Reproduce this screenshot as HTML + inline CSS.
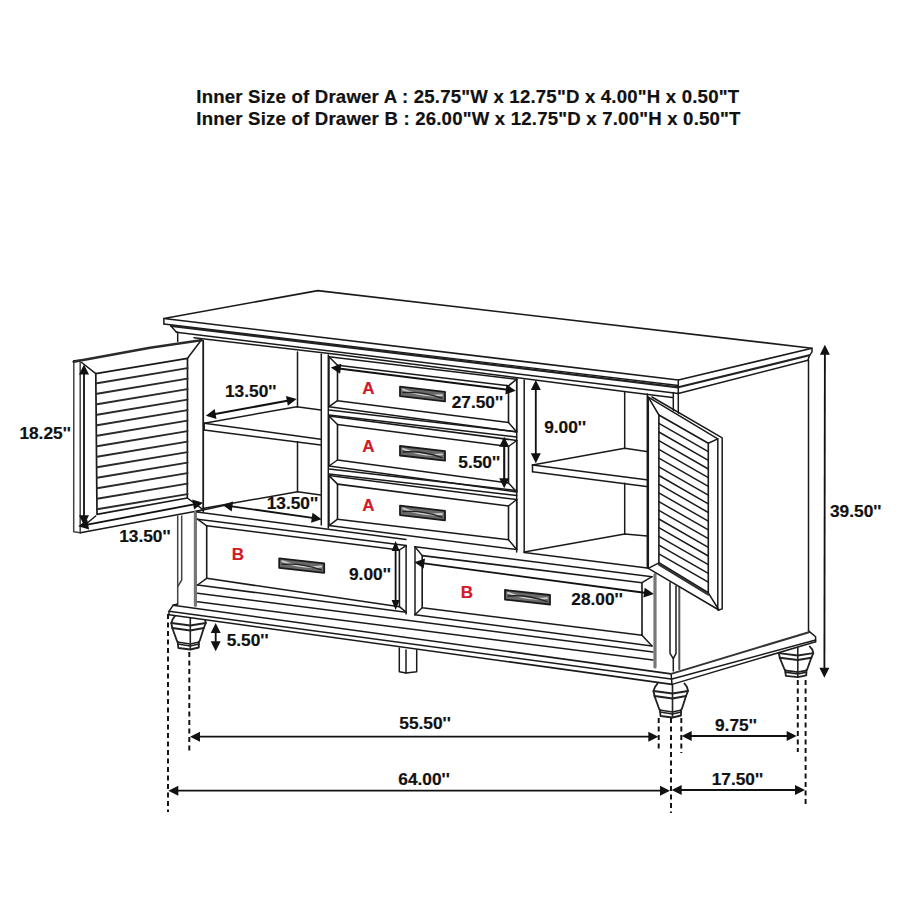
<!DOCTYPE html>
<html><head><meta charset="utf-8"><style>
html,body{margin:0;padding:0;background:#fff;width:900px;height:900px;overflow:hidden}
svg{display:block}
text{font-family:"Liberation Sans",sans-serif;font-weight:bold;stroke-width:0.2px}
</style></head><body>
<svg width="900" height="900" viewBox="0 0 900 900" stroke-linecap="round" stroke-linejoin="round">
<text x="196.3" y="102.5" font-size="18.6" fill="#111" stroke="#111" letter-spacing="0.2">Inner Size of Drawer A : 25.75"W x 12.75"D x 4.00"H x 0.50"T</text>
<text x="196.3" y="124.7" font-size="18.6" fill="#111" stroke="#111" letter-spacing="0.2">Inner Size of Drawer B : 26.00"W x 12.75"D x 7.00"H x 0.50"T</text>
<path d="M163.9 318.5 L317.8 290.6 L812.0 348.2 L678.3 380.0 L163.9 318.5" stroke="#1a1a1a" stroke-width="1.6099999999999999" fill="none" />
<path d="M163.9 324.0 L678.3 385.5" stroke="#1a1a1a" stroke-width="1.38" fill="none" />
<path d="M171.0 325.8 L678.3 387.4" stroke="#222" stroke-width="2.2" fill="none" />
<path d="M176.5 332.2 L678.3 393.5" stroke="#1a1a1a" stroke-width="1.4949999999999999" fill="none" />
<path d="M194.0 337.7 L340.0 354.8 L630.0 392.2 L672.5 397.5" stroke="#1a1a1a" stroke-width="1.4949999999999999" fill="none" />
<path d="M163.9 318.5 L163.9 324.0" stroke="#1a1a1a" stroke-width="1.4949999999999999" fill="none" />
<path d="M171.0 326.1 L174.0 329.5 L176.5 332.2 L177.7 332.3 L177.7 341.4" stroke="#1a1a1a" stroke-width="1.4949999999999999" fill="none" />
<path d="M678.3 387.2 L809.3 355.3" stroke="#222" stroke-width="2.2" fill="none" />
<path d="M678.3 393.5 L808.0 360.2" stroke="#1a1a1a" stroke-width="1.4949999999999999" fill="none" />
<path d="M812.0 348.2 L812.0 351.8 L809.3 355.8 L808.0 360.2" stroke="#1a1a1a" stroke-width="1.4949999999999999" fill="none" />
<path d="M678.3 380.0 L678.3 393.5" stroke="#1a1a1a" stroke-width="1.4949999999999999" fill="none" />
<path d="M808.5 360.2 L808.5 632.0" stroke="#1a1a1a" stroke-width="1.4949999999999999" fill="none" />
<path d="M673.3 392.5 L673.3 412.0" stroke="#1a1a1a" stroke-width="1.4949999999999999" fill="none" />
<path d="M678.3 392.5 L678.3 414.0" stroke="#1a1a1a" stroke-width="1.4949999999999999" fill="none" />
<path d="M73.8 360.8 L73.7 531.7 L80.3 532.7" stroke="#444" stroke-width="1.4949999999999999" fill="none" />
<path d="M80.2 362.0 L80.2 532.7" stroke="#444" stroke-width="1.4949999999999999" fill="none" />
<path d="M73.8 360.8 L80.2 360.2" stroke="#1a1a1a" stroke-width="1.4949999999999999" fill="none" />
<path d="M73.6 361.8 L150.0 347.8 L201.0 340.3" stroke="#2a2a2a" stroke-width="2.4" fill="none" />
<path d="M200.0 340.3 L203.3 340.5 L203.3 510.0" stroke="#1a1a1a" stroke-width="1.4949999999999999" fill="none" />
<path d="M80.3 532.7 L202.7 510.0" stroke="#1a1a1a" stroke-width="1.6099999999999999" fill="none" />
<path d="M95.8 373.7 L187.5 358.3 L187.3 498.0 L97.0 514.3 L95.8 373.7" stroke="#1a1a1a" stroke-width="1.7249999999999999" fill="none" />
<path d="M81.7 362.5 L95.8 373.7" stroke="#1a1a1a" stroke-width="1.4949999999999999" fill="none" />
<path d="M200.0 341.7 L187.5 358.3" stroke="#1a1a1a" stroke-width="1.4949999999999999" fill="none" />
<path d="M202.7 509.3 L187.3 498.0" stroke="#1a1a1a" stroke-width="1.4949999999999999" fill="none" />
<path d="M87.0 523.3 L95.7 516.0" stroke="#1a1a1a" stroke-width="1.4949999999999999" fill="none" />
<path d="M97.0 383.3 L187.5 368.1" stroke="#2a2a2a" stroke-width="1.9549999999999998" fill="none" />
<path d="M97.0 393.8 L187.5 378.6" stroke="#2a2a2a" stroke-width="1.9549999999999998" fill="none" />
<path d="M97.0 404.3 L187.5 389.1" stroke="#2a2a2a" stroke-width="1.9549999999999998" fill="none" />
<path d="M97.0 414.8 L187.5 399.6" stroke="#2a2a2a" stroke-width="1.9549999999999998" fill="none" />
<path d="M97.0 425.3 L187.5 410.1" stroke="#2a2a2a" stroke-width="1.9549999999999998" fill="none" />
<path d="M97.0 435.8 L187.5 420.6" stroke="#2a2a2a" stroke-width="1.9549999999999998" fill="none" />
<path d="M97.0 446.3 L187.5 431.1" stroke="#2a2a2a" stroke-width="1.9549999999999998" fill="none" />
<path d="M97.0 456.8 L187.5 441.6" stroke="#2a2a2a" stroke-width="1.9549999999999998" fill="none" />
<path d="M97.0 467.3 L187.5 452.1" stroke="#2a2a2a" stroke-width="1.9549999999999998" fill="none" />
<path d="M97.0 477.8 L187.5 462.6" stroke="#2a2a2a" stroke-width="1.9549999999999998" fill="none" />
<path d="M97.0 488.3 L187.5 473.1" stroke="#2a2a2a" stroke-width="1.9549999999999998" fill="none" />
<path d="M97.0 498.8 L187.5 483.6" stroke="#2a2a2a" stroke-width="1.9549999999999998" fill="none" />
<path d="M97.0 509.3 L187.5 494.1" stroke="#2a2a2a" stroke-width="1.9549999999999998" fill="none" />
<path d="M84.0 368.5 L84.0 521.3" stroke="#111" stroke-width="1.8399999999999999" fill="none" stroke-linecap="butt"/>
<path d="M84.0 525.3 L79.0 515.3 L89.0 515.3Z" fill="#111" stroke="none" stroke-width="0"/>
<path d="M84.0 364.5 L89.0 374.5 L79.0 374.5Z" fill="#111" stroke="none" stroke-width="0"/>
<path d="M82.2 525.6 L199.1 503.4" stroke="#111" stroke-width="1.8399999999999999" fill="none" stroke-linecap="butt"/>
<path d="M203.0 502.7 L194.1 509.5 L192.2 499.6Z" fill="#111" stroke="none" stroke-width="0"/>
<path d="M78.3 526.3 L87.2 519.5 L89.1 529.4Z" fill="#111" stroke="none" stroke-width="0"/>
<text x="19.4" y="438.7" font-size="17.3" fill="#111" stroke="#111" text-anchor="start" >18.25''</text>
<text x="119.2" y="541.7" font-size="17.3" fill="#111" stroke="#111" text-anchor="start" >13.50''</text>
<path d="M203.3 341.0 L203.3 512.0" stroke="#1a1a1a" stroke-width="1.4949999999999999" fill="none" />
<path d="M297.5 352.0 L297.5 407.0" stroke="#1a1a1a" stroke-width="1.4949999999999999" fill="none" />
<path d="M297.5 441.7 L297.5 491.7" stroke="#1a1a1a" stroke-width="1.4949999999999999" fill="none" />
<path d="M204.2 423.3 L296.7 406.7 L320.8 410.0" stroke="#1a1a1a" stroke-width="1.4949999999999999" fill="none" />
<path d="M204.2 423.3 L320.8 439.2" stroke="#1a1a1a" stroke-width="1.4949999999999999" fill="none" />
<path d="M204.2 430.0 L320.8 445.0" stroke="#1a1a1a" stroke-width="1.4949999999999999" fill="none" />
<path d="M204.2 423.3 L204.2 430.0" stroke="#1a1a1a" stroke-width="1.4949999999999999" fill="none" />
<path d="M204.2 508.3 L297.5 491.7 L320.8 495.0" stroke="#1a1a1a" stroke-width="1.4949999999999999" fill="none" />
<path d="M209.7 415.1 L292.8 399.7" stroke="#111" stroke-width="2.07" fill="none" stroke-linecap="butt"/>
<path d="M296.7 399.0 L287.8 405.7 L286.0 395.9Z" fill="#111" stroke="none" stroke-width="0"/>
<path d="M205.8 415.8 L214.7 409.1 L216.5 418.9Z" fill="#111" stroke="none" stroke-width="0"/>
<text x="225.0" y="396.7" font-size="17.3" fill="#111" stroke="#111" text-anchor="start" >13.50''</text>
<path d="M226.5 505.6 L317.7 518.6" stroke="#111" stroke-width="1.8399999999999999" fill="none" stroke-linecap="butt"/>
<path d="M321.7 519.2 L311.1 522.7 L312.5 512.8Z" fill="#111" stroke="none" stroke-width="0"/>
<path d="M222.5 505.0 L233.1 501.5 L231.7 511.4Z" fill="#111" stroke="none" stroke-width="0"/>
<text x="266.7" y="509.2" font-size="17.3" fill="#111" stroke="#111" text-anchor="start" >13.50''</text>
<path d="M321.3 354.3 L321.3 525.0" stroke="#1a1a1a" stroke-width="1.4949999999999999" fill="none" />
<path d="M328.3 355.0 L328.3 528.0" stroke="#1a1a1a" stroke-width="1.4949999999999999" fill="none" />
<path d="M329.0 356.7 L516.7 379.2" stroke="#1a1a1a" stroke-width="1.4949999999999999" fill="none" />
<path d="M329.0 406.7 L516.7 432.0" stroke="#1a1a1a" stroke-width="1.4949999999999999" fill="none" />
<path d="M337.5 365.2 L508.5 385.8 L508.5 422.5 L337.5 400.7 L337.5 365.2" stroke="#1a1a1a" stroke-width="1.6099999999999999" fill="none" />
<path d="M329.0 356.7 L337.5 365.2" stroke="#1a1a1a" stroke-width="1.4949999999999999" fill="none" />
<path d="M516.7 379.2 L508.5 385.8" stroke="#1a1a1a" stroke-width="1.4949999999999999" fill="none" />
<path d="M329.0 406.7 L337.5 400.7" stroke="#1a1a1a" stroke-width="1.4949999999999999" fill="none" />
<path d="M516.7 432.0 L508.5 422.5" stroke="#1a1a1a" stroke-width="1.4949999999999999" fill="none" />
<path d="M329.0 356.7 L329.0 406.7" stroke="#1a1a1a" stroke-width="1.4949999999999999" fill="none" />
<path d="M516.7 379.2 L516.7 432.0" stroke="#1a1a1a" stroke-width="1.4949999999999999" fill="none" />
<text x="368.5" y="393.7" font-size="17" fill="#d21a26" stroke="#d21a26" text-anchor="middle" >A</text>
<path d="M400.0 386.7 L445.0 391.9 L445.0 401.4 L400.0 396.2Z" fill="#6a6a6a" stroke="#1a1a1a" stroke-width="1.8"/>
<path d="M403.0 389.5 Q422.5 397.3 442.0 395.1" stroke="#ccc" stroke-width="1.8" fill="none"/>
<path d="M403.0 392.7 Q422.5 391.3 442.0 398.4" stroke="#222" stroke-width="1.3" fill="none"/>
<path d="M329.0 416.0 L516.7 440.5" stroke="#1a1a1a" stroke-width="1.4949999999999999" fill="none" />
<path d="M329.0 466.0 L516.7 492.0" stroke="#1a1a1a" stroke-width="1.4949999999999999" fill="none" />
<path d="M337.5 424.5 L508.5 446.5 L508.5 483.0 L337.5 460.0 L337.5 424.5" stroke="#1a1a1a" stroke-width="1.6099999999999999" fill="none" />
<path d="M329.0 416.0 L337.5 424.5" stroke="#1a1a1a" stroke-width="1.4949999999999999" fill="none" />
<path d="M516.7 440.5 L508.5 446.5" stroke="#1a1a1a" stroke-width="1.4949999999999999" fill="none" />
<path d="M329.0 466.0 L337.5 460.0" stroke="#1a1a1a" stroke-width="1.4949999999999999" fill="none" />
<path d="M516.7 492.0 L508.5 483.0" stroke="#1a1a1a" stroke-width="1.4949999999999999" fill="none" />
<path d="M329.0 416.0 L329.0 466.0" stroke="#1a1a1a" stroke-width="1.4949999999999999" fill="none" />
<path d="M516.7 440.5 L516.7 492.0" stroke="#1a1a1a" stroke-width="1.4949999999999999" fill="none" />
<text x="368.5" y="451.7" font-size="17" fill="#d21a26" stroke="#d21a26" text-anchor="middle" >A</text>
<path d="M400.0 446.0 L445.0 451.2 L445.0 460.7 L400.0 455.5Z" fill="#6a6a6a" stroke="#1a1a1a" stroke-width="1.8"/>
<path d="M403.0 448.8 Q422.5 456.6 442.0 454.4" stroke="#ccc" stroke-width="1.8" fill="none"/>
<path d="M403.0 452.0 Q422.5 450.6 442.0 457.7" stroke="#222" stroke-width="1.3" fill="none"/>
<path d="M329.0 475.6 L516.7 499.5" stroke="#1a1a1a" stroke-width="1.4949999999999999" fill="none" />
<path d="M329.0 525.6 L516.7 549.5" stroke="#1a1a1a" stroke-width="1.4949999999999999" fill="none" />
<path d="M337.5 484.1 L508.5 506.0 L508.5 539.7 L337.5 519.2 L337.5 484.1" stroke="#1a1a1a" stroke-width="1.6099999999999999" fill="none" />
<path d="M329.0 475.6 L337.5 484.1" stroke="#1a1a1a" stroke-width="1.4949999999999999" fill="none" />
<path d="M516.7 499.5 L508.5 506.0" stroke="#1a1a1a" stroke-width="1.4949999999999999" fill="none" />
<path d="M329.0 525.6 L337.5 519.2" stroke="#1a1a1a" stroke-width="1.4949999999999999" fill="none" />
<path d="M516.7 549.5 L508.5 539.7" stroke="#1a1a1a" stroke-width="1.4949999999999999" fill="none" />
<path d="M329.0 475.6 L329.0 525.6" stroke="#1a1a1a" stroke-width="1.4949999999999999" fill="none" />
<path d="M516.7 499.5 L516.7 549.5" stroke="#1a1a1a" stroke-width="1.4949999999999999" fill="none" />
<text x="368.5" y="510.6" font-size="17" fill="#d21a26" stroke="#d21a26" text-anchor="middle" >A</text>
<path d="M400.0 505.6 L445.0 510.8 L445.0 520.3 L400.0 515.1Z" fill="#6a6a6a" stroke="#1a1a1a" stroke-width="1.8"/>
<path d="M403.0 508.4 Q422.5 516.2 442.0 514.0" stroke="#ccc" stroke-width="1.8" fill="none"/>
<path d="M403.0 511.6 Q422.5 510.2 442.0 517.3" stroke="#222" stroke-width="1.3" fill="none"/>
<path d="M329.0 410.0 L516.7 431.7" stroke="#1a1a1a" stroke-width="1.4949999999999999" fill="none" />
<path d="M329.0 415.0 L516.7 437.0" stroke="#1a1a1a" stroke-width="1.4949999999999999" fill="none" />
<path d="M329.0 469.0 L516.7 490.5" stroke="#1a1a1a" stroke-width="1.4949999999999999" fill="none" />
<path d="M329.0 474.0 L516.7 495.5" stroke="#1a1a1a" stroke-width="1.4949999999999999" fill="none" />
<path d="M334.8 368.0 L511.8 390.3" stroke="#111" stroke-width="2.07" fill="none" stroke-linecap="butt"/>
<path d="M515.8 390.8 L505.3 394.5 L506.5 384.6Z" fill="#111" stroke="none" stroke-width="0"/>
<path d="M330.8 367.5 L341.3 363.8 L340.1 373.7Z" fill="#111" stroke="none" stroke-width="0"/>
<text x="451.7" y="407.5" font-size="17.3" fill="#111" stroke="#111" text-anchor="start" >27.50''</text>
<path d="M504.2 440.7 L504.2 484.3" stroke="#111" stroke-width="2.07" fill="none" stroke-linecap="butt"/>
<path d="M504.2 488.3 L499.2 478.3 L509.2 478.3Z" fill="#111" stroke="none" stroke-width="0"/>
<path d="M504.2 436.7 L509.2 446.7 L499.2 446.7Z" fill="#111" stroke="none" stroke-width="0"/>
<text x="458.3" y="468.3" font-size="17.3" fill="#111" stroke="#111" text-anchor="start" >5.50''</text>
<path d="M516.7 378.0 L516.7 552.0" stroke="#1a1a1a" stroke-width="1.4949999999999999" fill="none" />
<path d="M524.2 380.0 L524.2 552.0" stroke="#1a1a1a" stroke-width="1.4949999999999999" fill="none" />
<path d="M624.7 392.5 L624.7 448.3" stroke="#1a1a1a" stroke-width="1.4949999999999999" fill="none" />
<path d="M624.7 483.3 L624.7 534.0" stroke="#1a1a1a" stroke-width="1.4949999999999999" fill="none" />
<path d="M532.5 465.0 L624.7 448.3 L648.3 451.7" stroke="#1a1a1a" stroke-width="1.4949999999999999" fill="none" />
<path d="M532.5 465.0 L648.3 480.0" stroke="#1a1a1a" stroke-width="1.4949999999999999" fill="none" />
<path d="M532.5 471.7 L648.3 486.7" stroke="#1a1a1a" stroke-width="1.4949999999999999" fill="none" />
<path d="M532.5 465.0 L532.5 471.7" stroke="#1a1a1a" stroke-width="1.4949999999999999" fill="none" />
<path d="M524.2 552.0 L624.7 534.0 L647.3 536.0" stroke="#1a1a1a" stroke-width="1.4949999999999999" fill="none" />
<path d="M524.2 552.5 L647.3 568.0" stroke="#1a1a1a" stroke-width="1.4949999999999999" fill="none" />
<path d="M535.8 384.0 L535.8 459.3" stroke="#111" stroke-width="1.8399999999999999" fill="none" stroke-linecap="butt"/>
<path d="M535.8 463.3 L530.8 453.3 L540.8 453.3Z" fill="#111" stroke="none" stroke-width="0"/>
<path d="M535.8 380.0 L540.8 390.0 L530.8 390.0Z" fill="#111" stroke="none" stroke-width="0"/>
<text x="544.2" y="432.5" font-size="17.3" fill="#111" stroke="#111" text-anchor="start" >9.00''</text>
<path d="M647.3 394.0 L647.3 568.0" stroke="#1a1a1a" stroke-width="1.4949999999999999" fill="none" />
<path d="M177.7 516.0 L177.7 604.0" stroke="#444" stroke-width="1.4949999999999999" fill="none" />
<path d="M181.7 516.0 L181.7 580.0 L177.7 586.7" stroke="#444" stroke-width="1.4949999999999999" fill="none" />
<path d="M195.4 512.0 L195.4 605.3" stroke="#777" stroke-width="3.2" fill="none" />
<path d="M197.0 511.3 L225.0 505.3" stroke="#1a1a1a" stroke-width="1.4949999999999999" fill="none" />
<path d="M197.0 512.0 L406.0 539.5" stroke="#1a1a1a" stroke-width="1.4949999999999999" fill="none" />
<path d="M197.5 519.2 L406.1 545.6" stroke="#1a1a1a" stroke-width="1.4949999999999999" fill="none" />
<path d="M197.5 585.0 L406.1 612.2" stroke="#1a1a1a" stroke-width="1.4949999999999999" fill="none" />
<path d="M206.7 525.8 L399.4 550.0 L399.4 606.7 L206.7 578.3 L206.7 525.8" stroke="#1a1a1a" stroke-width="1.6099999999999999" fill="none" />
<path d="M197.5 519.2 L206.7 525.8" stroke="#1a1a1a" stroke-width="1.4949999999999999" fill="none" />
<path d="M406.1 545.6 L399.4 550.0" stroke="#1a1a1a" stroke-width="1.4949999999999999" fill="none" />
<path d="M406.1 612.2 L399.4 606.7" stroke="#1a1a1a" stroke-width="1.4949999999999999" fill="none" />
<path d="M197.5 585.0 L206.7 578.3" stroke="#1a1a1a" stroke-width="1.4949999999999999" fill="none" />
<text x="238.0" y="559.8" font-size="17" fill="#d21a26" stroke="#d21a26" text-anchor="middle" >B</text>
<path d="M279.2 558.3 L324.2 563.3 L324.2 572.8 L279.2 567.8Z" fill="#6a6a6a" stroke="#1a1a1a" stroke-width="1.8"/>
<path d="M282.2 561.1 Q301.7 568.8 321.2 566.5" stroke="#ccc" stroke-width="1.8" fill="none"/>
<path d="M282.2 564.3 Q301.7 562.8 321.2 569.8" stroke="#222" stroke-width="1.3" fill="none"/>
<path d="M197.5 593.3 L653.0 652.0" stroke="#1a1a1a" stroke-width="1.4949999999999999" fill="none" />
<path d="M197.5 601.7 L653.0 660.0" stroke="#1a1a1a" stroke-width="1.4949999999999999" fill="none" />
<path d="M395.6 545.1 L395.6 606.0" stroke="#111" stroke-width="1.8399999999999999" fill="none" stroke-linecap="butt"/>
<path d="M395.6 610.0 L391.6 600.0 L399.6 600.0Z" fill="#111" stroke="none" stroke-width="0"/>
<path d="M395.6 541.1 L399.6 551.1 L391.6 551.1Z" fill="#111" stroke="none" stroke-width="0"/>
<text x="349.0" y="580.3" font-size="17.3" fill="#111" stroke="#111" text-anchor="start" >9.00''</text>
<path d="M406.1 545.6 L406.1 614.0" stroke="#1a1a1a" stroke-width="1.4949999999999999" fill="none" />
<path d="M415.0 546.7 L415.0 614.7" stroke="#1a1a1a" stroke-width="1.4949999999999999" fill="none" />
<path d="M415.0 546.7 L652.0 576.7" stroke="#1a1a1a" stroke-width="1.4949999999999999" fill="none" />
<path d="M415.0 614.7 L652.0 646.0" stroke="#1a1a1a" stroke-width="1.4949999999999999" fill="none" />
<path d="M422.2 555.6 L642.0 582.7 L642.0 635.3 L422.2 607.8 L422.2 555.6" stroke="#1a1a1a" stroke-width="1.6099999999999999" fill="none" />
<path d="M415.0 546.7 L422.2 555.6" stroke="#1a1a1a" stroke-width="1.4949999999999999" fill="none" />
<path d="M652.0 576.7 L642.0 582.7" stroke="#1a1a1a" stroke-width="1.4949999999999999" fill="none" />
<path d="M652.0 646.0 L642.0 635.3" stroke="#1a1a1a" stroke-width="1.4949999999999999" fill="none" />
<path d="M415.0 614.7 L422.2 607.8" stroke="#1a1a1a" stroke-width="1.4949999999999999" fill="none" />
<text x="467.0" y="597.8" font-size="17" fill="#d21a26" stroke="#d21a26" text-anchor="middle" >B</text>
<path d="M505.0 590.0 L550.0 595.0 L550.0 604.5 L505.0 599.5Z" fill="#6a6a6a" stroke="#1a1a1a" stroke-width="1.8"/>
<path d="M508.0 592.8 Q527.5 600.5 547.0 598.2" stroke="#ccc" stroke-width="1.8" fill="none"/>
<path d="M508.0 596.0 Q527.5 594.5 547.0 601.5" stroke="#222" stroke-width="1.3" fill="none"/>
<path d="M418.4 562.7 L650.0 593.5" stroke="#111" stroke-width="1.8399999999999999" fill="none" stroke-linecap="butt"/>
<path d="M654.0 594.0 L643.4 597.6 L644.7 587.7Z" fill="#111" stroke="none" stroke-width="0"/>
<path d="M414.4 562.2 L425.0 558.6 L423.7 568.5Z" fill="#111" stroke="none" stroke-width="0"/>
<text x="571.3" y="605.3" font-size="17.3" fill="#111" stroke="#111" text-anchor="start" >28.00''</text>
<path d="M655.0 574.7 L655.0 667.0" stroke="#777" stroke-width="3.2" fill="none" />
<path d="M670.0 582.7 L670.0 653.3 L673.3 658.7 L676.0 653.3 L676.0 586.0" stroke="#1a1a1a" stroke-width="1.4949999999999999" fill="none" />
<path d="M673.3 658.7 L673.3 671.0" stroke="#1a1a1a" stroke-width="1.4949999999999999" fill="none" />
<path d="M679.3 586.7 L679.3 669.3" stroke="#555" stroke-width="2" fill="none" />
<path d="M648.3 397.2 L722.2 437.8 L722.2 608.9 L718.9 610.0 L648.3 568.3Z" fill="#fff" stroke="none" stroke-width="0"/>
<path d="M648.3 397.2 L648.3 568.3 L718.9 610.0 L722.2 608.9 L722.2 437.8 L652.0 397.0" stroke="#1a1a1a" stroke-width="1.4949999999999999" fill="none" />
<path d="M648.3 397.2 L717.8 438.9 L717.8 610.0" stroke="#1a1a1a" stroke-width="1.4949999999999999" fill="none" />
<path d="M658.9 415.0 L708.3 443.3 L708.3 592.8 L658.9 562.8 L658.9 415.0" stroke="#1a1a1a" stroke-width="1.6099999999999999" fill="none" />
<path d="M648.3 397.2 L658.9 415.0" stroke="#1a1a1a" stroke-width="1.4949999999999999" fill="none" />
<path d="M717.8 438.9 L708.3 443.3" stroke="#1a1a1a" stroke-width="1.4949999999999999" fill="none" />
<path d="M718.9 610.0 L708.3 592.8" stroke="#1a1a1a" stroke-width="1.4949999999999999" fill="none" />
<path d="M648.3 568.3 L658.9 562.8" stroke="#1a1a1a" stroke-width="1.4949999999999999" fill="none" />
<path d="M658.9 423.3 L708.3 451.6" stroke="#1a1a1a" stroke-width="1.4949999999999999" fill="none" />
<path d="M658.9 432.0 L708.3 460.3" stroke="#1a1a1a" stroke-width="1.4949999999999999" fill="none" />
<path d="M658.9 440.7 L708.3 469.0" stroke="#1a1a1a" stroke-width="1.4949999999999999" fill="none" />
<path d="M658.9 449.4 L708.3 477.7" stroke="#1a1a1a" stroke-width="1.4949999999999999" fill="none" />
<path d="M658.9 458.1 L708.3 486.4" stroke="#1a1a1a" stroke-width="1.4949999999999999" fill="none" />
<path d="M658.9 466.8 L708.3 495.1" stroke="#1a1a1a" stroke-width="1.4949999999999999" fill="none" />
<path d="M658.9 475.5 L708.3 503.8" stroke="#1a1a1a" stroke-width="1.4949999999999999" fill="none" />
<path d="M658.9 484.2 L708.3 512.5" stroke="#1a1a1a" stroke-width="1.4949999999999999" fill="none" />
<path d="M658.9 492.9 L708.3 521.2" stroke="#1a1a1a" stroke-width="1.4949999999999999" fill="none" />
<path d="M658.9 501.6 L708.3 529.9" stroke="#1a1a1a" stroke-width="1.4949999999999999" fill="none" />
<path d="M658.9 510.3 L708.3 538.6" stroke="#1a1a1a" stroke-width="1.4949999999999999" fill="none" />
<path d="M658.9 519.0 L708.3 547.3" stroke="#1a1a1a" stroke-width="1.4949999999999999" fill="none" />
<path d="M658.9 527.7 L708.3 556.0" stroke="#1a1a1a" stroke-width="1.4949999999999999" fill="none" />
<path d="M658.9 536.4 L708.3 564.7" stroke="#1a1a1a" stroke-width="1.4949999999999999" fill="none" />
<path d="M658.9 545.1 L708.3 573.4" stroke="#1a1a1a" stroke-width="1.4949999999999999" fill="none" />
<path d="M658.9 553.8 L708.3 582.1" stroke="#1a1a1a" stroke-width="1.4949999999999999" fill="none" />
<path d="M659.0 564.5 L708.3 594.5" stroke="#333" stroke-width="2.2" fill="none" />
<path d="M175.3 615.5 L172.8 619.0 L171.3 623.0 L172.3 628.0 L176.8 640.5 L177.8 642.0 L178.3 648.0 L190.3 649.5 L198.8 647.5 L198.8 642.0 L199.8 640.5 L203.8 628.0 L205.8 623.0 L204.8 619.0 L202.3 615.5" stroke="#222" stroke-width="1.8399999999999999" fill="none" />
<path d="M171.3 623.0 L190.3 625.5 L205.8 623.0" stroke="#222" stroke-width="1.8399999999999999" fill="none" />
<path d="M172.3 628.0 L190.3 630.5 L203.8 628.0" stroke="#222" stroke-width="2.07" fill="none" />
<path d="M177.3 642.0 L190.3 644.0 L199.3 642.0" stroke="#222" stroke-width="1.6099999999999999" fill="none" />
<path d="M177.8 644.0 L190.3 646.0 L199.0 644.0" stroke="#222" stroke-width="1.6099999999999999" fill="none" />
<path d="M190.3 616.5 L190.3 649.5" stroke="#222" stroke-width="1.6099999999999999" fill="none" />
<path d="M657.5 683.5 L655.0 687.0 L653.5 691.0 L654.5 696.0 L659.0 708.5 L660.0 710.0 L660.5 716.0 L672.5 717.5 L681.0 715.5 L681.0 710.0 L682.0 708.5 L686.0 696.0 L688.0 691.0 L687.0 687.0 L684.5 683.5" stroke="#222" stroke-width="1.8399999999999999" fill="none" />
<path d="M653.5 691.0 L672.5 693.5 L688.0 691.0" stroke="#222" stroke-width="1.8399999999999999" fill="none" />
<path d="M654.5 696.0 L672.5 698.5 L686.0 696.0" stroke="#222" stroke-width="2.07" fill="none" />
<path d="M659.5 710.0 L672.5 712.0 L681.5 710.0" stroke="#222" stroke-width="1.6099999999999999" fill="none" />
<path d="M660.0 712.0 L672.5 714.0 L681.2 712.0" stroke="#222" stroke-width="1.6099999999999999" fill="none" />
<path d="M672.5 684.5 L672.5 717.5" stroke="#222" stroke-width="1.6099999999999999" fill="none" />
<path d="M782.8 646.5 L780.3 649.6 L778.8 653.2 L779.8 657.8 L784.3 669.0 L785.3 670.4 L785.8 675.8 L797.8 677.1 L806.3 675.3 L806.3 670.4 L807.3 669.0 L811.3 657.8 L813.3 653.2 L812.3 649.6 L809.8 646.5" stroke="#222" stroke-width="1.8399999999999999" fill="none" />
<path d="M778.8 653.2 L797.8 655.5 L813.3 653.2" stroke="#222" stroke-width="1.8399999999999999" fill="none" />
<path d="M779.8 657.8 L797.8 660.0 L811.3 657.8" stroke="#222" stroke-width="2.07" fill="none" />
<path d="M784.8 670.4 L797.8 672.1 L806.8 670.4" stroke="#222" stroke-width="1.6099999999999999" fill="none" />
<path d="M785.3 672.1 L797.8 674.0 L806.5 672.1" stroke="#222" stroke-width="1.6099999999999999" fill="none" />
<path d="M797.8 647.4 L797.8 677.1" stroke="#222" stroke-width="1.6099999999999999" fill="none" />
<path d="M177.7 604.0 L173.0 605.3 L671.1 673.9 L808.9 631.1 L815.6 636.7 L815.6 641.7 L672.0 684.4 L169.0 614.7 L169.0 611.3Z" fill="#fff" stroke="none" stroke-width="0"/>
<path d="M177.7 604.0 L173.0 605.3 L169.0 611.3 L169.0 614.7" stroke="#1a1a1a" stroke-width="1.4949999999999999" fill="none" />
<path d="M173.0 605.3 L671.1 673.9" stroke="#1a1a1a" stroke-width="1.6099999999999999" fill="none" />
<path d="M169.0 611.3 L671.1 679.0" stroke="#1a1a1a" stroke-width="1.4949999999999999" fill="none" />
<path d="M169.0 614.7 L672.0 684.4" stroke="#1a1a1a" stroke-width="1.6099999999999999" fill="none" />
<path d="M671.1 673.9 L672.0 684.4" stroke="#1a1a1a" stroke-width="1.4949999999999999" fill="none" />
<path d="M671.1 673.9 L808.9 632.2" stroke="#333" stroke-width="2" fill="none" />
<path d="M672.0 679.0 L815.6 640.0" stroke="#1a1a1a" stroke-width="1.4949999999999999" fill="none" />
<path d="M672.0 684.4 L815.6 641.7" stroke="#1a1a1a" stroke-width="1.4949999999999999" fill="none" />
<path d="M808.9 631.1 L815.6 636.7 L815.6 641.7" stroke="#1a1a1a" stroke-width="1.4949999999999999" fill="none" />
<path d="M399.3 648.0 L399.3 671.7 L406.0 673.0 L416.7 671.7 L416.7 650.0" stroke="#1a1a1a" stroke-width="1.4949999999999999" fill="none" />
<path d="M406.0 650.0 L406.0 673.0" stroke="#1a1a1a" stroke-width="1.4949999999999999" fill="none" />
<path d="M168.0 614.0 L168.0 812.0" stroke="#111" stroke-width="1.9549999999999998" fill="none" stroke-dasharray="5 3.5" stroke-linecap="butt"/>
<path d="M189.3 652.0 L189.3 752.0" stroke="#111" stroke-width="1.9549999999999998" fill="none" stroke-dasharray="5 3.5" stroke-linecap="butt"/>
<path d="M658.7 718.0 L658.7 752.0" stroke="#111" stroke-width="1.9549999999999998" fill="none" stroke-dasharray="5 3.5" stroke-linecap="butt"/>
<path d="M671.0 718.0 L671.0 813.0" stroke="#111" stroke-width="1.9549999999999998" fill="none" stroke-dasharray="5 3.5" stroke-linecap="butt"/>
<path d="M681.3 718.0 L681.3 753.0" stroke="#111" stroke-width="1.9549999999999998" fill="none" stroke-dasharray="5 3.5" stroke-linecap="butt"/>
<path d="M797.8 680.0 L797.8 752.0" stroke="#111" stroke-width="1.9549999999999998" fill="none" stroke-dasharray="5 3.5" stroke-linecap="butt"/>
<path d="M805.6 680.0 L805.6 807.0" stroke="#111" stroke-width="1.9549999999999998" fill="none" stroke-dasharray="5 3.5" stroke-linecap="butt"/>
<path d="M194.0 736.7 L654.3 736.7" stroke="#111" stroke-width="1.8399999999999999" fill="none" stroke-linecap="butt"/>
<path d="M658.3 736.7 L648.3 741.7 L648.3 731.7Z" fill="#111" stroke="none" stroke-width="0"/>
<path d="M190.0 736.7 L200.0 731.7 L200.0 741.7Z" fill="#111" stroke="none" stroke-width="0"/>
<path d="M172.3 790.7 L666.0 790.7" stroke="#111" stroke-width="1.8399999999999999" fill="none" stroke-linecap="butt"/>
<path d="M670.0 790.7 L660.0 795.7 L660.0 785.7Z" fill="#111" stroke="none" stroke-width="0"/>
<path d="M168.3 790.7 L178.3 785.7 L178.3 795.7Z" fill="#111" stroke="none" stroke-width="0"/>
<path d="M685.7 736.0 L792.7 736.0" stroke="#111" stroke-width="1.8399999999999999" fill="none" stroke-linecap="butt"/>
<path d="M796.7 736.0 L786.7 741.0 L786.7 731.0Z" fill="#111" stroke="none" stroke-width="0"/>
<path d="M681.7 736.0 L691.7 731.0 L691.7 741.0Z" fill="#111" stroke="none" stroke-width="0"/>
<path d="M675.7 790.0 L801.0 790.0" stroke="#111" stroke-width="1.8399999999999999" fill="none" stroke-linecap="butt"/>
<path d="M805.0 790.0 L795.0 795.0 L795.0 785.0Z" fill="#111" stroke="none" stroke-width="0"/>
<path d="M671.7 790.0 L681.7 785.0 L681.7 795.0Z" fill="#111" stroke="none" stroke-width="0"/>
<text x="399.3" y="729.3" font-size="17.3" fill="#111" stroke="#111" text-anchor="start" >55.50''</text>
<text x="398.3" y="785.0" font-size="17.3" fill="#111" stroke="#111" text-anchor="start" >64.00''</text>
<text x="715.0" y="731.0" font-size="17.3" fill="#111" stroke="#111" text-anchor="start" >9.75''</text>
<text x="711.7" y="784.5" font-size="17.3" fill="#111" stroke="#111" text-anchor="start" >17.50''</text>
<path d="M824.9 348.7 L824.4 673.8" stroke="#111" stroke-width="1.8399999999999999" fill="none" stroke-linecap="butt"/>
<path d="M824.4 677.8 L819.4 667.8 L829.4 667.8Z" fill="#111" stroke="none" stroke-width="0"/>
<path d="M824.9 344.7 L829.9 354.7 L819.9 354.7Z" fill="#111" stroke="none" stroke-width="0"/>
<text x="830.0" y="516.7" font-size="17.3" fill="#111" stroke="#111" text-anchor="start" >39.50''</text>
<text x="226.7" y="645.8" font-size="17.3" fill="#111" stroke="#111" text-anchor="start" >5.50''</text>
<path d="M215.7 627.0 L215.7 647.3" stroke="#111" stroke-width="1.8399999999999999" fill="none" stroke-linecap="butt"/>
<path d="M215.7 651.3 L210.7 641.3 L220.7 641.3Z" fill="#111" stroke="none" stroke-width="0"/>
<path d="M215.7 623.0 L220.7 633.0 L210.7 633.0Z" fill="#111" stroke="none" stroke-width="0"/>
</svg></body></html>
